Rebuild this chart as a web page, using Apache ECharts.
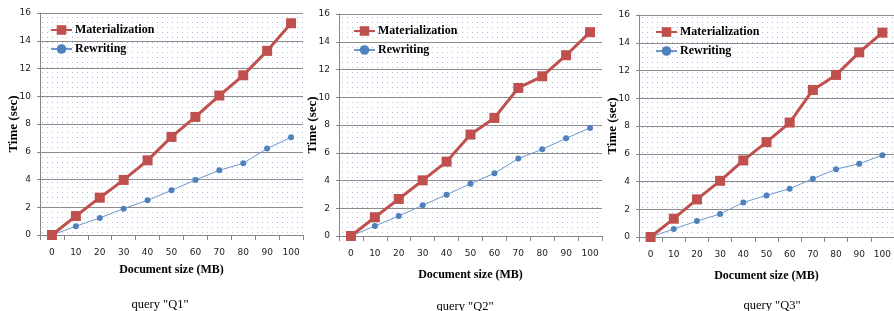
<!DOCTYPE html>
<html>
<head>
<meta charset="utf-8">
<script src="https://cdn.jsdelivr.net/npm/echarts@6/dist/echarts.min.js"></script>
<style>
  html, body { margin: 0; padding: 0; background: #fff; }
  #chart { width: 894px; height: 311px; }
</style>
</head>
<body>
<div id="chart"></div>
<script>
// x categories (document size in MB)
const sizes = ['0', '10', '20', '30', '40', '50', '60', '70', '80', '90', '100'];

// times in seconds
const q1Mat = [0, 1.37, 2.69, 3.97, 5.38, 7.07, 8.51, 10.05, 11.51, 13.27, 15.26];
const q1Rew = [0, 0.63, 1.23, 1.9, 2.5, 3.22, 3.97, 4.66, 5.17, 6.23, 7.04];
const q2Mat = [0, 1.35, 2.67, 4.01, 5.36, 7.31, 8.51, 10.67, 11.51, 13.03, 14.69];
const q2Rew = [0, 0.72, 1.44, 2.21, 2.98, 3.77, 4.52, 5.58, 6.25, 7.04, 7.79];
const q3Mat = [0, 1.32, 2.71, 4.05, 5.52, 6.84, 8.25, 10.6, 11.68, 13.31, 14.73];
const q3Rew = [0, 0.58, 1.15, 1.66, 2.49, 3.0, 3.48, 4.2, 4.89, 5.28, 5.9];

const captions = ['query "Q1"', 'query "Q2"', 'query "Q3"'];

// dotted plot background
const tile = document.createElement('canvas');
tile.width = 5; tile.height = 5;
const tc = tile.getContext('2d');
tc.fillStyle = '#ffffff';
tc.fillRect(0, 0, 5, 5);
tc.fillStyle = '#a9c0e2';
tc.fillRect(2, 2, 1, 1);

const RED = '#c0504d';
const BLUE = '#4f81bd';
const serif = 'Liberation Serif';

// layout of the three panels
const panels = [
  { left: 40, top: 13, bottom: 235, nameGap: 29, legLeft: 50, legTop: 24, capX: 155, capY: 302 },
  { left: 339, top: 14, bottom: 236, nameGap: 33, legLeft: 353, legTop: 25, capX: 460, capY: 304 },
  { left: 639, top: 15, bottom: 237, nameGap: 33, legLeft: 655, legTop: 26, capX: 767, capY: 303 }
];
const matData = [q1Mat, q2Mat, q3Mat];
const rewData = [q1Rew, q2Rew, q3Rew];

const chart = echarts.init(document.getElementById('chart'));

const grid = [], xAxis = [], yAxis = [], series = [], legend = [], title = [];

panels.forEach((p, i) => {
  grid.push({
    left: p.left, top: p.top, width: 263, height: p.bottom - p.top,
    show: true, borderWidth: 0,
    backgroundColor: { image: tile, repeat: 'repeat' }
  });
  xAxis.push({
    type: 'category', gridIndex: i, data: sizes, boundaryGap: true,
    name: 'Document size (MB)', nameLocation: 'middle', nameGap: p.nameGap,
    nameMoveOverlap: false,
    nameTextStyle: { fontFamily: serif, fontWeight: 'bold', fontSize: 12, color: '#000' },
    axisLine: { lineStyle: { color: '#868686' } },
    axisTick: { show: true, length: 5, lineStyle: { color: '#868686' } },
    axisLabel: { interval: 0, margin: 13, fontSize: 9, fontFamily: 'DejaVu Sans', color: '#222' },
    splitLine: { show: false }
  });
  yAxis.push({
    type: 'value', gridIndex: i, min: 0, max: 16, interval: 2,
    name: 'Time (sec)', nameLocation: 'middle', nameGap: 20,
    nameMoveOverlap: false,
    nameTextStyle: { fontFamily: serif, fontWeight: 'bold', fontSize: 13, color: '#000' },
    axisLine: { show: true, lineStyle: { color: '#868686' } },
    axisTick: { show: true, length: 3, lineStyle: { color: '#868686' } },
    axisLabel: { margin: 9, fontSize: 9, fontFamily: 'DejaVu Sans', color: '#222' },
    splitLine: { lineStyle: { color: '#8c8c8c', width: 1 } }
  });
  series.push({
    name: 'Materialization', type: 'line', xAxisIndex: i, yAxisIndex: i,
    data: matData[i], symbol: 'rect', symbolSize: 10,
    lineStyle: { color: RED, width: 3 }, itemStyle: { color: RED },
    z: 3, animation: false
  });
  series.push({
    name: 'Rewriting', type: 'line', xAxisIndex: i, yAxisIndex: i,
    data: rewData[i], symbol: 'circle', symbolSize: 6,
    lineStyle: { color: '#6f97cc', width: 1 }, itemStyle: { color: BLUE },
    z: 2, animation: false
  });
  legend.push({
    orient: 'vertical', left: p.legLeft - 5, top: p.legTop - 5,
    data: ['Materialization', 'Rewriting'],
    itemWidth: 21, itemHeight: 12, itemGap: 7,
    textStyle: { fontFamily: serif, fontWeight: 'bold', fontSize: 12, color: '#000', padding: [0, 0, 0, -2] }
  });
  title.push({
    text: captions[i], left: p.capX, top: p.capY - 9, textAlign: 'center',
    textStyle: { fontFamily: serif, fontWeight: 'normal', fontSize: 12.5, color: '#000' }
  });
});

chart.setOption({ animation: false, grid, xAxis, yAxis, series, legend, title });
</script>
</body>
</html>
